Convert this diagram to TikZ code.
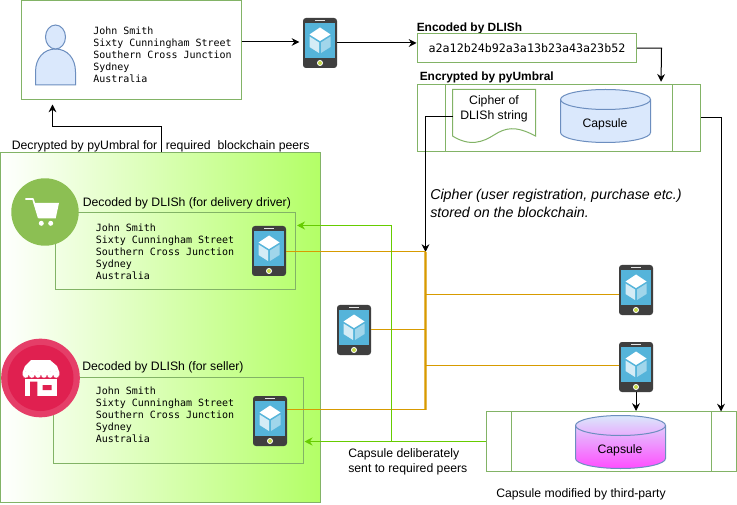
\documentclass[tikz,border=0pt]{standalone}
\usepackage{fontspec}
\setmainfont{Liberation Sans}
\setmonofont{DejaVu Sans Mono}
\usetikzlibrary{fit,arrows.meta,shapes.geometric}
\definecolor{gstroke}{HTML}{82B366}
\definecolor{bstroke}{HTML}{6C8EBF}
\definecolor{bfill}{HTML}{DAE8FC}
\definecolor{orangeline}{HTML}{D79B00}
\definecolor{orangebar}{HTML}{E6B950}
\definecolor{greenline}{HTML}{66CC00}
\definecolor{phonedark}{HTML}{3F3F3F}
\definecolor{phonescreen}{HTML}{55B4DA}
\definecolor{panelgreen}{HTML}{B3FF66}
\definecolor{cartgreen}{HTML}{8CBF53}
\definecolor{storeouter}{HTML}{E53E68}
\definecolor{storeinner}{HTML}{E02050}
\definecolor{capmagenta}{HTML}{FF4DFF}
\definecolor{phonebtn}{HTML}{C5D94A}
\tikzset{
  gbox/.style={draw=gstroke,inner sep=0pt,line width=0.75pt},
  lbl/.style={inner sep=0pt,anchor=west,font=\fontsize{9.18}{11}\selectfont},
  bold lbl/.style={lbl,font=\fontsize{8.95}{11}\selectfont\bfseries},
  addr/.style={inner sep=0pt,anchor=west,align=left,font=\ttfamily\fontsize{7.5}{9}\selectfont},
  link/.style={draw=black,line width=0.75pt,-{Stealth[length=5.8pt,width=5.8pt]}},
  orange link/.style={draw=orangeline,line width=0.85pt},
  green link/.style={draw=greenline,line width=0.75pt,-{Stealth[length=6pt,width=6pt]}},
  phonebody/.style={fill=phonedark,rounded corners=2.2pt,minimum width=25.5pt,minimum height=37.5pt,inner sep=0pt,draw=none},
}
\newcommand{\phonepic}[3]{%
  \node[phonebody] (#1) at (#2,#3) {};
  \begin{scope}[shift={(#2,#3)}]
    \fill[phonescreen] (-15,-20) rectangle (15,15);
    \fill[white!90!black] (-5,-23) rectangle (5,-21.8);
    \fill[white] (0,-15.5) -- (10.5,-8.5) -- (0,-2) -- (-10.5,-8.5) -- cycle;
    \fill[white!75!phonescreen] (-10.5,-6.5) -- (-1,-0.5) -- (-1,10) -- (-10.5,4) -- cycle;
    \fill[white!45!phonescreen] (10.5,-6.5) -- (1,-0.5) -- (1,10) -- (10.5,4) -- cycle;
    \fill[white] (0,20) circle[radius=3];
    \fill[phonebtn] (0,20) circle[radius=2];
  \end{scope}}
\newcommand{\cylpic}[2]{%
  \begin{scope}[shift={#1}]
    \path[draw=bstroke,line width=0.75pt,#2] (0,10) .. controls (0,4.5) and (20,0) .. (45,0) .. controls (70,0) and (90,4.5) .. (90,10) -- (90,43) .. controls (90,48.5) and (70,53) .. (45,53) .. controls (20,53) and (0,48.5) .. (0,43) -- cycle;
    \draw[bstroke,line width=0.75pt] (0,10) .. controls (0,15.5) and (20,20) .. (45,20) .. controls (70,20) and (90,15.5) .. (90,10);
  \end{scope}}
\newcommand{\addrtext}{John Smith\\Sixty Cunningham Street\\Southern Cross Junction\\Sydney\\Australia}
\begin{document}
\begin{tikzpicture}[x=0.75pt,y=-0.75pt]
\useasboundingbox (0,0) rectangle (737,505);
\fill[white] (0,0) rectangle (737,505);

% panel
\node[gbox,left color=white,right color=panelgreen,fit={(0.5,152.5)(320.5,502.5)}] (panel) {};

% user box
\node[gbox,fit={(21.5,0.5)(241,100)}] (user) {};
\fill[bfill,draw=bstroke,line width=0.75pt] (35.5,85) -- (35.5,72) .. controls (35.5,58) and (44,49) .. (55.5,49) .. controls (67,49) and (75.5,58) .. (75.5,72) -- (75.5,85) -- cycle;
\draw[fill=bfill,draw=bstroke,line width=0.75pt] (55.5,37) ellipse[x radius=10,y radius=12];
\node[addr] (usertext) at (93,56.5) {\begin{tabular}{@{}l@{}}\addrtext\end{tabular}};
\phonepic{pa}{320}{43}

% encoded
\node[bold lbl] (enclbl) at (416.5,28) {Encoded by DLISh};
\node[gbox,fit={(417,33.5)(636.5,63)}] (enc) {};
\node[inner sep=0pt,font=\ttfamily\fontsize{8.75}{11}\selectfont] (enctext) at (527,48.5) {a2a12b24b92a3a13b23a43a23b52};

% encrypted
\node[bold lbl] (encrlbl) at (419.5,77) {Encrypted by pyUmbral};
\node[gbox,fit={(417.5,84.5)(700.5,151.5)}] (encr) {};
\draw[gstroke,line width=0.75pt] (445.5,84.5) -- (445.5,151.5) (672.5,84.5) -- (672.5,151.5);
\draw[gstroke,line width=0.75pt,fill=white] (452.5,89.5) -- (535.5,89.5) -- (535.5,136) .. controls (515,125) and (505,128) .. (494,135) .. controls (483,142) and (470,147) .. (452.5,136) -- cycle;
\coordinate (docw) at (452.5,117);
\node[lbl,anchor=center,align=center,font=\fontsize{9.18}{11.25}\selectfont] (ciphertext) at (494,108.5) {Cipher of\\DLISh string};
\cylpic{(560.5,89.5)}{fill=bfill}
\node[lbl,anchor=center] (capa) at (605,124.5) {Capsule};

% panel label
\node[lbl] (declbl) at (11.5,146) {Decrypted by pyUmbral for\hspace{6.4pt}required\ \ blockchain peers};

% delivery
\node[lbl] (dellbl) at (82.5,203) {Decoded by DLISh (for delivery driver)};
\node[gbox,fit={(55.5,212.5)(295.5,290)}] (del) {};
\node[addr] (deltext) at (95.5,253.5) {\begin{tabular}{@{}l@{}}\addrtext\end{tabular}};
\node[circle,fill=cartgreen,minimum size=50.6pt,inner sep=0pt] (cart) at (45,212) {};
\draw[white,line width=1.2pt,line join=round] (25.3,199) -- (33,199) -- (38.7,218);
\fill[white] (33.5,203) -- (59,203) -- (55.7,218.3) -- (38.7,218.3) -- cycle;
\fill[white] (41.3,223.3) circle[radius=2.5] (50.7,223.3) circle[radius=2.5];
\phonepic{pb}{269}{251}

% seller
\node[lbl] (sellbl) at (82,367) {Decoded by DLISh (for seller)};
\node[gbox,fit={(53.5,377.5)(303.5,463.5)}] (sel) {};
\node[addr] (seltext) at (95.5,416.5) {\begin{tabular}{@{}l@{}}\addrtext\end{tabular}};
\node[circle,fill=storeouter,minimum size=59pt,inner sep=0pt] (store) at (40.5,378) {};
\fill[storeinner] (40.5,378) circle[radius=33];
\fill[white] (25,378.5) rectangle (56.7,396);
\fill[storeinner] (30,381.7) rectangle (37.3,396.2) (42.7,385) rectangle (51.7,390);
\fill[white] (31,360) -- (50,360) -- (57,366) -- (59.3,372) -- (59.3,375) -- (22.7,375) -- (22.7,372) -- (25,366) -- cycle;
\fill[white,draw=storeouter,line width=0.2pt] (25.7,375) circle[radius=3.05] (31.8,375) circle[radius=3.05] (37.9,375) circle[radius=3.05] (44,375) circle[radius=3.05] (50.1,375) circle[radius=3.05] (56.2,375) circle[radius=3.05];
\fill[white] (22.7,372) rectangle (59.3,375);
\phonepic{pc}{270}{421}

% other phones
\phonepic{pd}{354}{330}
\phonepic{pe}{636}{290}
\phonepic{pf}{636}{367}

% third party capsule
\node[gbox,fit={(486.5,411.5)(736.5,471.5)}] (third) {};
\draw[gstroke,line width=0.75pt] (511.5,411.5) -- (511.5,471.5) (711.5,411.5) -- (711.5,471.5);
\cylpic{(575.5,415.5)}{top color=bfill,bottom color=capmagenta}
\node[lbl,anchor=center] (capb) at (620,450) {Capsule};

% texts
\node[lbl,align=left,font=\fontsize{10.7}{13.5}\selectfont\itshape,anchor=west] (ital) at (430,203) {Cipher (user registration, purchase etc.)\\stored on the blockchain.};
\node[lbl,align=left,font=\fontsize{9.18}{11.25}\selectfont] (sent) at (348,462) {Capsule deliberately\\sent to required peers};
\node[lbl] (modlbl) at (496,494) {Capsule modified by third-party};

% bar
\coordinate (bartop) at (425.5,252);
\coordinate (barbot) at (425.5,410);
\draw[draw=orangebar,line width=2pt] (bartop) -- (barbot);
\draw[draw=orangeline,line width=0.5pt] (bartop) -- (barbot);

% black connectors
\draw[link,shorten >=2.5pt] (user.east |- 0,42) -- (pa.west |- 0,42);
\draw[link] (pa.east) -- (enc.west |- pa.east);
\draw[link,shorten >=2pt] (enc.east) -- ++(24.5,0) -- (661,84.5);
\draw[link,shorten >=3pt] (161,152.5) -- (161,126.5) -- (52.5,126.5) -- (user.south -| 52.5,0);
\draw[link] (docw) -- (425.5,117) -- (bartop);
\draw[link] (encr.east |- 0,118) -- (721,118) -- (721,411.5);
\draw[link] (pf.south) -- (pf.south |- third.north);

% orange connectors
\draw[orange link] (pb.east |- 0,251.5) -- (bartop |- 0,251.5);
\draw[orange link] (pc.east |- 0,409.5) -- (barbot |- 0,409.5);
\draw[orange link] (pd.east |- 0,329.5) -- (bartop |- 0,329.5);
\draw[orange link] (bartop |- 0,294.5) -- (pe.west |- 0,294.5);
\draw[orange link] (bartop |- 0,365.5) -- (pf.west |- 0,365.5);

% green connectors
\draw[green link] (third.west |- 0,441.5) -- (391.5,441.5) -- (391.5,225.5) -- (297,225.5);
\draw[green link] (third.west |- 0,441.5) -- (304.5,441.5);
\end{tikzpicture}
\end{document}
